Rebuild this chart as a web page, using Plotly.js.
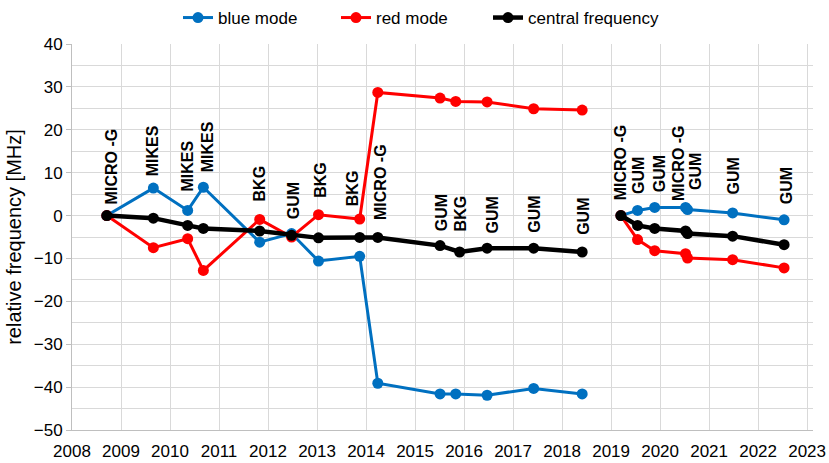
<!DOCTYPE html>
<html>
<head>
<meta charset="utf-8">
<script src="https://cdn.plot.ly/plotly-3.0.1.min.js"></script>
<style>html,body{margin:0;padding:0;background:#fff;}#chart{width:829px;height:463px;}</style>
</head>
<body>
<div id="chart"></div>
<script>
// Measurement dates (decimal years)
const dates = [2008.71, 2009.66, 2010.36, 2010.68, 2011.83, 2012.48, 2013.03, 2013.87, 2014.24, 2015.51, 2015.83, 2016.47, 2017.42, 2018.41, 2019.20, 2019.54, 2019.89, 2020.52, 2020.56, 2021.48, 2022.53];
const centralDates = [2008.71, 2009.66, 2010.36, 2010.68, 2011.83, 2012.48, 2013.03, 2013.87, 2014.24, 2015.51, 2015.91, 2016.47, 2017.42, 2018.41, 2019.20, 2019.54, 2019.89, 2020.52, 2020.56, 2021.48, 2022.53];
// Comparison partner labels
const partners = ["MICRO -G", "MIKES", "MIKES", "MIKES", "BKG", "GUM", "BKG", "BKG", "MICRO -G", "GUM", "BKG", "GUM", "GUM", "GUM", "MICRO -G", "GUM", "GUM", "MICRO -G", "GUM", "GUM", "GUM"];
// Relative frequency [MHz]
const blueMode = [0, 6.4, 1.2, 6.6, -6.2, -4.2, -10.6, -9.5, -39.1, -41.6, -41.6, -41.9, -40.3, -41.6, 0, 1.2, 1.9, 1.9, 1.4, 0.6, -1.0];
const redMode = [0, -7.5, -5.4, -12.8, -0.9, -5.0, 0.2, -0.8, 28.7, 27.4, 26.6, 26.5, 24.9, 24.6, 0, -5.6, -8.2, -8.9, -9.9, -10.3, -12.2];
const centralFreq = [0, -0.6, -2.3, -3.0, -3.6, -4.6, -5.2, -5.1, -5.1, -7.0, -8.5, -7.6, -7.6, -8.5, 0, -2.3, -3.0, -3.6, -4.2, -4.8, -6.8];
// index where the series break (gap between the two campaigns)
const breakAfter = 13;

// label placement (layout, not data)
const labelX = [2008.81, 2009.66, 2010.36, 2010.76, 2011.82, 2012.51, 2013.08, 2013.73, 2014.29, 2015.54, 2015.92, 2016.59, 2017.43, 2018.44, 2019.18, 2019.57, 2019.98, 2020.38, 2020.71, 2021.50, 2022.57];
const labelY = [2.3, 8.9, 5.4, 9.8, 3.1, -1.2, 3.9, 1.9, -1.2, -3.9, -3.9, -4.3, -4.3, -4.7, 3.3, 4.7, 5.1, 3.1, 5.8, 4.7, 2.3];

function withGap(arr, gapVal) {
  const out = arr.slice(0, breakAfter + 1);
  out.push(gapVal);
  return out.concat(arr.slice(breakAfter + 1));
}
const gapDate = (dates[breakAfter] + dates[breakAfter + 1]) / 2;

const FONT = 'Liberation Sans, Arial, sans-serif';

function series(name, x, y, color, lw, ms, leg) {
  return {
    type: 'scatter', mode: 'lines+markers', name: name, legend: leg,
    x: withGap(x, gapDate), y: withGap(y, null),
    connectgaps: false,
    line: {color: color, width: lw},
    marker: {color: color, size: ms},
    hoverinfo: 'x+y'
  };
}

const traces = [
  series('blue mode', dates, blueMode, '#0070C0', 3, 11, 'legend'),
  series('red mode', dates, redMode, '#FF0000', 3, 11, 'legend2'),
  series('central frequency', centralDates, centralFreq, '#000000', 4.5, 11, 'legend3')
];

const annotations = partners.map((t, i) => ({
  x: labelX[i], y: labelY[i], xref: 'x', yref: 'y',
  text: '<b>' + t + '</b>', showarrow: false, textangle: -90,
  xanchor: 'center', yanchor: 'bottom', borderpad: 0,
  font: {family: FONT, size: 16, color: '#000'}
}));

function legendAt(px) {
  return {
    orientation: 'h', xref: 'container', x: px / 829, xanchor: 'left', yref: 'container', y: 1, yanchor: 'top',
    font: {family: FONT, size: 17, color: '#000'}, itemwidth: 30
  };
}

const layout = {
  width: 829, height: 463,
  margin: {l: 72, r: 16, t: 44, b: 33},
  paper_bgcolor: '#fff', plot_bgcolor: '#fff',
  font: {family: FONT, color: '#000'},
  showlegend: true,
  legend: legendAt(178),
  legend2: legendAt(336),
  legend3: legendAt(488),
  xaxis: {
    range: [2008, 2023.12], dtick: 1, tick0: 2008, showgrid: true, gridcolor: '#d9d9d9', gridwidth: 1,
    zeroline: false, showline: true, linecolor: '#bfbfbf', linewidth: 1, ticks: '',
    ticklabelstandoff: 6,
    tickfont: {family: FONT, size: 17, color: '#000'}
  },
  yaxis: {
    range: [-50, 40], dtick: 10, tick0: 0, showgrid: true, gridcolor: '#d9d9d9', gridwidth: 1,
    minor: {dtick: 5, showgrid: true, gridcolor: '#d9d9d9', gridwidth: 1},
    zeroline: false, showline: true, linecolor: '#bfbfbf', linewidth: 1,
    ticks: 'outside', ticklen: 5, tickcolor: '#bfbfbf',
    tickfont: {family: FONT, size: 17, color: '#000'},
    title: {text: 'relative frequency [MHz]', font: {family: FONT, size: 20, color: '#000'}, standoff: 6}
  },
  annotations: annotations
};

Plotly.newPlot('chart', traces, layout, {displayModeBar: false, staticPlot: true});
</script>
</body>
</html>
